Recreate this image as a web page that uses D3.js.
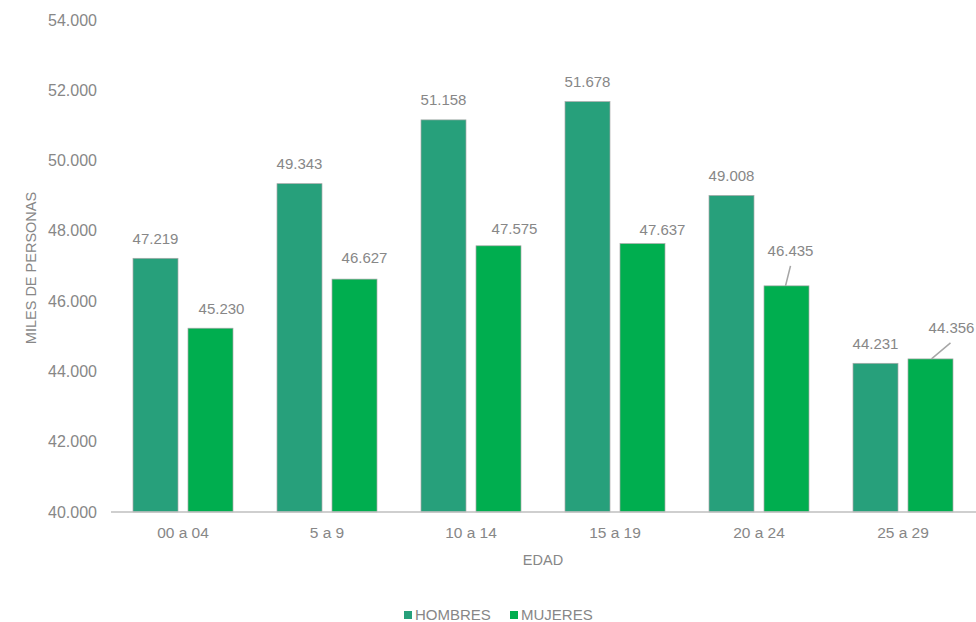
<!DOCTYPE html>
<html>
<head>
<meta charset="utf-8">
<script src="https://cdn.jsdelivr.net/npm/d3@7/dist/d3.min.js"></script>
<style>
  html, body { margin: 0; padding: 0; background: #fff; }
  svg { display: block; font-family: "Liberation Sans", Arial, sans-serif; }
</style>
</head>
<body>
<svg id="chart" width="976" height="622"></svg>
<script>
const categories = ["00 a 04", "5 a 9", "10 a 14", "15 a 19", "20 a 24", "25 a 29"];
const seriesNames = ["HOMBRES", "MUJERES"];
const hombres = [47219, 49343, 51158, 51678, 49008, 44231];
const mujeres = [45230, 46627, 47575, 47637, 46435, 44356];
const yTicks = [40000, 42000, 44000, 46000, 48000, 50000, 52000, 54000];
const colors = ["#27a07b", "#00ae4f"];

// label placement tweaks (style, not data): offset of label centre from bar top-centre
const mujeresLabelDx = [11, 10, 16, 20, 4, 21];
const mujeresLabelDy = [-19, -21, -17, -14, -35, -31];
// leader lines: [dx of start from label centre, dy of start below label centre, dx of end from bar centre]
const mujeresLeader = [null, null, null, null, [0, 15, -1], [-1, 15, 1]];

const svg = d3.select("#chart");
const fmt = v => d3.format(",")(v).replace(/,/g, ".");

const x0 = d3.scaleBand().domain(categories).range([111, 975]).paddingInner(0).paddingOuter(0);
const y = d3.scaleLinear().domain([40000, 54000]).range([512, 20]);

const barW = 45, gap = 10;
const textColor = "#878787";

// y tick labels
svg.append("g").selectAll("text").data(yTicks).join("text")
  .attr("x", 97).attr("y", d => y(d)).attr("dy", "0.35em")
  .attr("text-anchor", "end").attr("font-size", 16).attr("fill", textColor)
  .text(d => fmt(d));

// bars
const groups = categories.map((c, i) => ({ c, i, h: hombres[i], m: mujeres[i] }));
const cx = c => x0(c) + x0.bandwidth() / 2;
const hx = d => cx(d.c) - gap / 2 - barW / 2;
const mx = d => cx(d.c) + gap / 2 + barW / 2;

const g = svg.append("g");
g.selectAll("rect.h").data(groups).join("rect").attr("class", "h")
  .attr("x", d => hx(d) - barW / 2).attr("width", barW)
  .attr("y", d => y(d.h)).attr("height", d => y(40000) - y(d.h))
  .attr("fill", colors[0]).attr("stroke", "#a8a8a8").attr("stroke-width", 0.7);
g.selectAll("rect.m").data(groups).join("rect").attr("class", "m")
  .attr("x", d => mx(d) - barW / 2).attr("width", barW)
  .attr("y", d => y(d.m)).attr("height", d => y(40000) - y(d.m))
  .attr("fill", colors[1]).attr("stroke", "#a8a8a8").attr("stroke-width", 0.7);

// x axis line
svg.append("line").attr("x1", 111).attr("x2", 976).attr("y1", 512).attr("y2", 512)
  .attr("stroke", "#bfbfbf").attr("stroke-width", 1.5);

// x labels
svg.append("g").selectAll("text").data(categories).join("text")
  .attr("x", d => cx(d)).attr("y", 538).attr("text-anchor", "middle")
  .attr("font-size", 15.5).attr("fill", textColor).text(d => d);

// value labels - hombres
svg.append("g").selectAll("text").data(groups).join("text")
  .attr("x", d => hx(d))
  .attr("y", d => y(d.h) - 20).attr("dy", "0.35em")
  .attr("text-anchor", "middle").attr("font-size", 15).attr("fill", textColor)
  .text(d => fmt(d.h));

// value labels - mujeres
svg.append("g").selectAll("text").data(groups).join("text")
  .attr("x", d => mx(d) + mujeresLabelDx[d.i])
  .attr("y", d => y(d.m) + mujeresLabelDy[d.i]).attr("dy", "0.35em")
  .attr("text-anchor", "middle").attr("font-size", 15).attr("fill", textColor)
  .text(d => fmt(d.m));

// leader lines
svg.append("g").selectAll("line").data(groups.filter(d => mujeresLeader[d.i])).join("line")
  .attr("x1", d => mx(d) + mujeresLabelDx[d.i] + mujeresLeader[d.i][0])
  .attr("y1", d => y(d.m) + mujeresLabelDy[d.i] + mujeresLeader[d.i][1])
  .attr("x2", d => mx(d) + mujeresLeader[d.i][2])
  .attr("y2", d => y(d.m))
  .attr("stroke", "#a6a6a6").attr("stroke-width", 1.5);

// axis titles
svg.append("text").attr("transform", "translate(36,268) rotate(-90)")
  .attr("text-anchor", "middle").attr("font-size", 14.5).attr("fill", textColor)
  .text("MILES DE PERSONAS");
svg.append("text").attr("x", 543).attr("y", 565).attr("text-anchor", "middle")
  .attr("font-size", 14.5).attr("fill", textColor).text("EDAD");

// legend
const legendX = [404, 510];
const leg = svg.append("g").selectAll("g").data(seriesNames).join("g")
  .attr("transform", (d, i) => `translate(${legendX[i]},615)`);
leg.append("rect").attr("x", 0).attr("y", -4).attr("width", 8).attr("height", 8)
  .attr("fill", (d, i) => colors[i]);
leg.append("text").attr("x", 11).attr("y", 0).attr("dy", "0.35em")
  .attr("font-size", 15).attr("fill", textColor).text(d => d);
</script>
</body>
</html>
